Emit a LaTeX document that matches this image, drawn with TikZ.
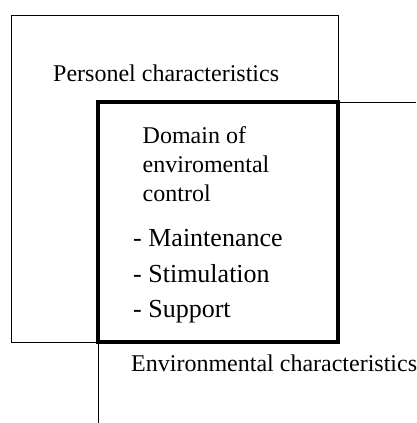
\documentclass[tikz,border=0pt]{standalone}
\usepackage{fontspec}
\setmainfont{Liberation Serif}
\begin{document}
\begin{tikzpicture}[x=1pt,y=-1pt,
  thinbox/.style={draw=black,line width=1pt},
  thickbox/.style={draw=black,line width=4pt},
  thinline/.style={draw=black,line width=1pt},
  lbl/.style={anchor=base west,inner sep=0pt,font=\fontsize{24}{28}\selectfont},
  item/.style={anchor=base west,inner sep=0pt,font=\fontsize{26}{30}\selectfont}]
\useasboundingbox (0,0) rectangle (416,423);
% Personel characteristics
\draw[thinbox] (11,15) rectangle (338,342);
% Environmental characteristics (open lines)
\coordinate (envtopend) at (416,102);
\coordinate (envleftend) at (98,423);
\coordinate (envtop) at (338,102);
\coordinate (envleft) at (98,342);
\draw[thinline] (envtop) -- (envtopend);
\draw[thinline] (envleft) -- (envleftend);
% Domain of environmental control
\draw[thickbox] (98,102) rectangle (338,342);
\node[lbl] (pers) at (53,81) {Personel characteristics};
\node[lbl] (env) at (131,371) {Environmental characteristics};
\node[lbl] (d1) at (142.5,143) {Domain of};
\node[lbl] (d2) at (142.5,172) {enviromental};
\node[lbl] (d3) at (142.5,201) {control};
\node[item] (m1) at (133,246) {- Maintenance};
\node[item] (m2) at (133,282) {- Stimulation};
\node[item] (m3) at (133,317) {- Support};
\end{tikzpicture}
\end{document}
